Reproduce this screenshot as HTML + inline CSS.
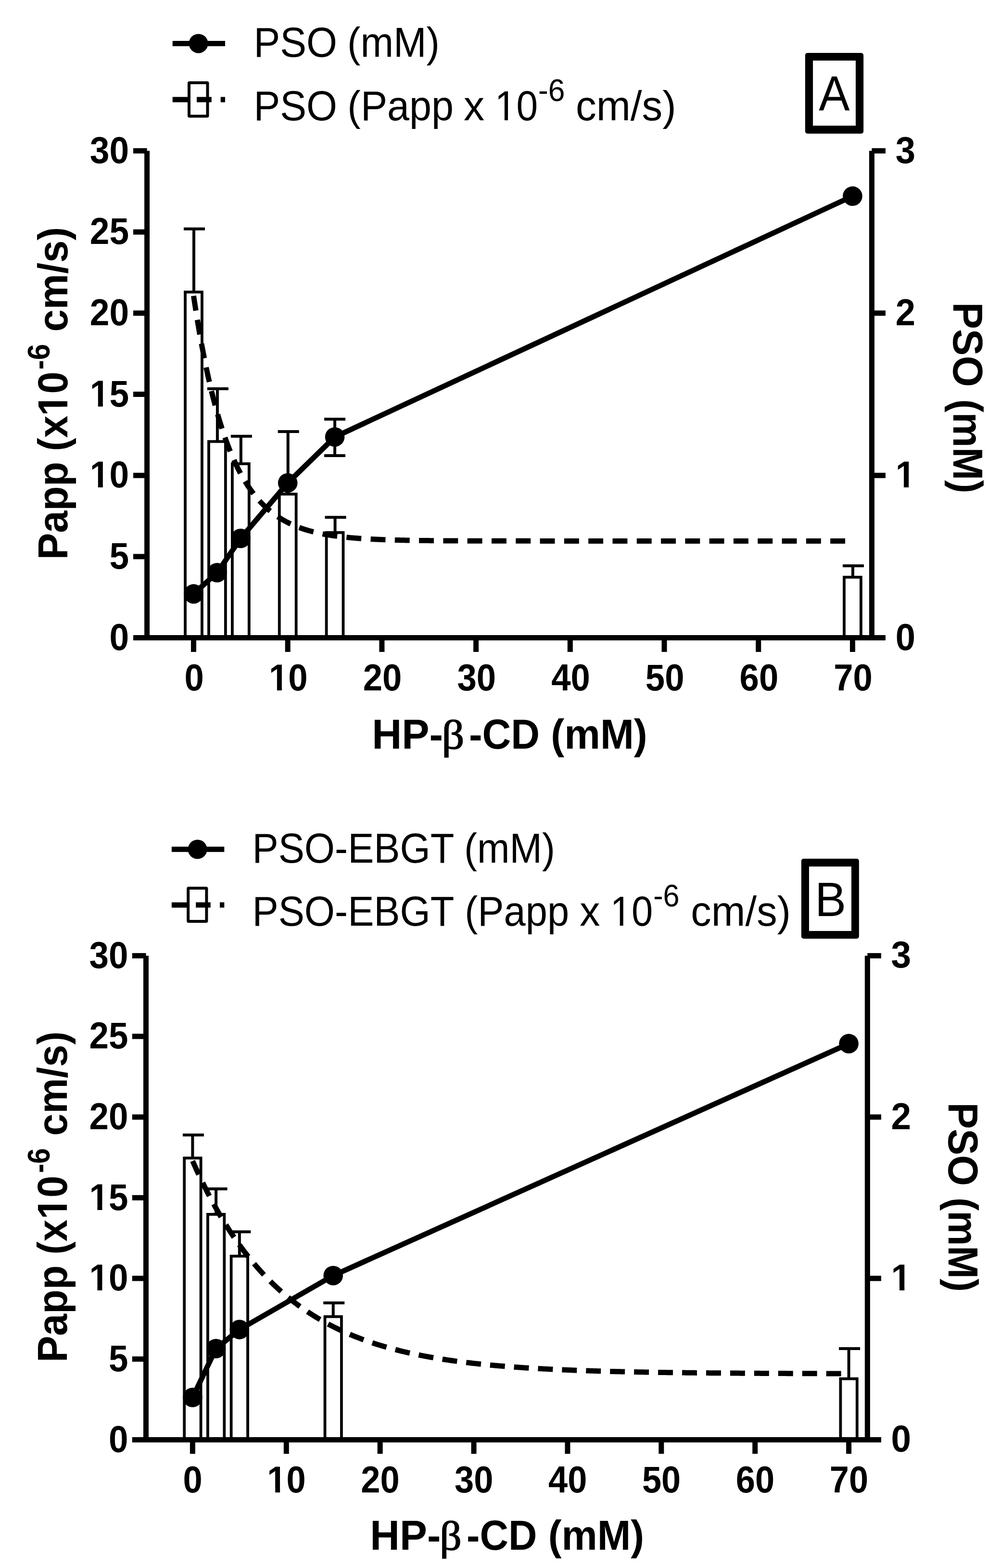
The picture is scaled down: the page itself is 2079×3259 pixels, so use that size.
<!DOCTYPE html>
<html><head><meta charset="utf-8"><title>HP-beta-CD chart</title>
<style>html,body{margin:0;padding:0;background:#fff;overflow:hidden}svg{display:block}text{fill:#000}</style>
</head><body>
<svg width="2079" height="3259" viewBox="0 0 2079 3259" font-family="'Liberation Sans', Arial, Helvetica, sans-serif">
<rect width="2079" height="3259" fill="#fff"/>
<rect x="385.05" y="606.99" width="34.9" height="718.51" fill="#fff" stroke="#000" stroke-width="5.8"/>
<path d="M403 606.99V475.77" stroke="#000" stroke-width="6" fill="none"/>
<path d="M382 475.77H426" stroke="#000" stroke-width="6" fill="none"/>
<rect x="433.98" y="917.67" width="34.9" height="407.83" fill="#fff" stroke="#000" stroke-width="5.8"/>
<path d="M451.93 917.67V808.04" stroke="#000" stroke-width="6" fill="none"/>
<path d="M430.93 808.04H474.93" stroke="#000" stroke-width="6" fill="none"/>
<rect x="482.91" y="963.88" width="34.9" height="361.62" fill="#fff" stroke="#000" stroke-width="5.8"/>
<path d="M500.86 963.88V906.87" stroke="#000" stroke-width="6" fill="none"/>
<path d="M479.86 906.87H523.86" stroke="#000" stroke-width="6" fill="none"/>
<rect x="580.76" y="1026.96" width="34.9" height="298.54" fill="#fff" stroke="#000" stroke-width="5.8"/>
<path d="M598.71 1026.96V897.09" stroke="#000" stroke-width="6" fill="none"/>
<path d="M577.71 897.09H621.71" stroke="#000" stroke-width="6" fill="none"/>
<rect x="678.62" y="1106.91" width="34.9" height="218.59" fill="#fff" stroke="#000" stroke-width="5.8"/>
<path d="M696.57 1106.91V1075.2" stroke="#000" stroke-width="6" fill="none"/>
<path d="M675.57 1075.2H719.57" stroke="#000" stroke-width="6" fill="none"/>
<rect x="1755.02" y="1199.68" width="34.9" height="125.82" fill="#fff" stroke="#000" stroke-width="5.8"/>
<path d="M1772.97 1199.68V1176.06" stroke="#000" stroke-width="6" fill="none"/>
<path d="M1751.97 1176.06H1795.97" stroke="#000" stroke-width="6" fill="none"/>
<path d="M402.5 615.05 L404.46 628.05 L406.41 640.71 L408.37 653.06 L410.33 665.09 L412.29 676.81 L414.24 688.23 L416.2 699.36 L418.16 710.21 L420.11 720.78 L422.07 731.08 L424.03 741.12 L425.99 750.9 L427.94 760.43 L429.9 769.72 L431.86 778.77 L433.81 787.59 L435.77 796.19 L437.73 804.56 L439.68 812.72 L441.64 820.68 L443.6 828.43 L445.56 835.98 L447.51 843.34 L449.47 850.52 L451.43 857.5 L453.38 864.32 L455.34 870.95 L457.3 877.42 L459.26 883.72 L461.21 889.87 L463.17 895.85 L465.13 901.69 L467.08 907.37 L469.04 912.91 L471 918.31 L472.96 923.56 L474.91 928.69 L476.87 933.69 L478.83 938.55 L480.78 943.3 L482.74 947.92 L484.7 952.42 L486.66 956.81 L488.61 961.09 L490.57 965.26 L492.53 969.32 L494.48 973.28 L496.44 977.13 L498.4 980.89 L500.36 984.55 L502.31 988.12 L504.27 991.6 L506.23 994.99 L508.18 998.29 L510.14 1001.51 L512.1 1004.65 L514.05 1007.7 L516.01 1010.68 L517.97 1013.58 L519.93 1016.41 L521.88 1019.17 L523.84 1021.86 L525.8 1024.47 L527.75 1027.02 L529.71 1029.51 L531.67 1031.93 L533.63 1034.29 L535.58 1036.59 L537.54 1038.83 L539.5 1041.02 L541.45 1043.14 L543.41 1045.22 L545.37 1047.24 L547.33 1049.21 L549.28 1051.13 L551.24 1053 L553.2 1054.82 L555.15 1056.6 L557.11 1058.33 L559.07 1060.01 L561.03 1061.66 L562.98 1063.26 L564.94 1064.82 L566.9 1066.34 L568.85 1067.82 L570.81 1069.27 L572.77 1070.67 L574.72 1072.05 L576.68 1073.38 L578.64 1074.68 L580.6 1075.95 L582.55 1077.19 L584.51 1078.4 L586.47 1079.57 L588.42 1080.71 L590.38 1081.83 L592.34 1082.92 L594.3 1083.98 L596.25 1085.01 L598.21 1086.01 L600.17 1086.99 L602.12 1087.95 L604.08 1088.88 L606.04 1089.79 L608 1090.67 L609.95 1091.53 L611.91 1092.37 L613.87 1093.19 L615.82 1093.98 L617.78 1094.76 L619.74 1095.52 L621.7 1096.26 L623.65 1096.97 L625.61 1097.67 L627.57 1098.36 L629.52 1099.02 L631.48 1099.67 L633.44 1100.3 L635.39 1100.92 L637.35 1101.52 L639.31 1102.1 L641.27 1102.67 L643.22 1103.23 L645.18 1103.77 L647.14 1104.29 L649.09 1104.81 L651.05 1105.31 L653.01 1105.8 L654.97 1106.27 L656.92 1106.73 L658.88 1107.18 L660.84 1107.62 L662.79 1108.05 L664.75 1108.47 L666.71 1108.88 L668.67 1109.27 L670.62 1109.66 L672.58 1110.04 L674.54 1110.4 L676.49 1110.76 L678.45 1111.11 L680.41 1111.45 L682.37 1111.78 L684.32 1112.1 L686.28 1112.42 L688.24 1112.72 L690.19 1113.02 L692.15 1113.31 L694.11 1113.6 L696.07 1113.87 L698.02 1114.14 L699.98 1114.4 L701.94 1114.66 L703.89 1114.91 L705.85 1115.15 L707.81 1115.39 L709.76 1115.62 L711.72 1115.84 L713.68 1116.06 L715.64 1116.27 L717.59 1116.48 L719.55 1116.68 L721.51 1116.88 L723.46 1117.07 L725.42 1117.26 L727.38 1117.44 L729.34 1117.62 L731.29 1117.8 L733.25 1117.96 L735.21 1118.13 L737.16 1118.29 L739.12 1118.45 L741.08 1118.6 L743.04 1118.75 L744.99 1118.89 L746.95 1119.03 L748.91 1119.17 L750.86 1119.3 L752.82 1119.43 L754.78 1119.56 L756.74 1119.69 L758.69 1119.81 L760.65 1119.92 L762.61 1120.04 L764.56 1120.15 L766.52 1120.26 L768.48 1120.37 L770.43 1120.47 L772.39 1120.57 L774.35 1120.67 L776.31 1120.76 L778.26 1120.86 L780.22 1120.95 L782.18 1121.04 L784.13 1121.12 L786.09 1121.21 L788.05 1121.29 L790.01 1121.37 L791.96 1121.45 L793.92 1121.52 L795.88 1121.6 L797.83 1121.67 L799.79 1121.74 L801.75 1121.81 L803.71 1121.87 L805.66 1121.94 L807.62 1122 L809.58 1122.06 L811.53 1122.12 L813.49 1122.18 L815.45 1122.24 L817.41 1122.29 L819.36 1122.35 L821.32 1122.4 L823.28 1122.45 L825.23 1122.5 L827.19 1122.55 L829.15 1122.6 L831.1 1122.65 L833.06 1122.69 L835.02 1122.74 L836.98 1122.78 L838.93 1122.82 L840.89 1122.86 L842.85 1122.9 L844.8 1122.94 L846.76 1122.98 L848.72 1123.01 L850.68 1123.05 L852.63 1123.08 L854.59 1123.12 L856.55 1123.15 L858.5 1123.18 L860.46 1123.22 L862.42 1123.25 L864.38 1123.28 L866.33 1123.3 L868.29 1123.33 L870.25 1123.36 L872.2 1123.39 L874.16 1123.41 L876.12 1123.44 L878.08 1123.46 L880.03 1123.49 L881.99 1123.51 L883.95 1123.54 L885.9 1123.56 L887.86 1123.58 L889.82 1123.6 L891.78 1123.62 L893.73 1123.64 L895.69 1123.66 L897.65 1123.68 L899.6 1123.7 L901.56 1123.72 L903.52 1123.74 L905.47 1123.75 L907.43 1123.77 L909.39 1123.79 L911.35 1123.8 L913.3 1123.82 L915.26 1123.83 L917.22 1123.85 L919.17 1123.86 L921.13 1123.88 L923.09 1123.89 L925.05 1123.91 L927 1123.92 L928.96 1123.93 L930.92 1123.94 L932.87 1123.96 L934.83 1123.97 L936.79 1123.98 L938.75 1123.99 L940.7 1124 L942.66 1124.01 L944.62 1124.02 L946.57 1124.03 L948.53 1124.04 L950.49 1124.05 L952.45 1124.06 L954.4 1124.07 L956.36 1124.08 L958.32 1124.09 L960.27 1124.1 L962.23 1124.1 L964.19 1124.11 L966.14 1124.12 L968.1 1124.13 L970.06 1124.13 L972.02 1124.14 L973.97 1124.15 L975.93 1124.16 L977.89 1124.16 L979.84 1124.17 L981.8 1124.18 L983.76 1124.18 L985.72 1124.19 L987.67 1124.19 L989.63 1124.2 L991.59 1124.2 L993.54 1124.21 L995.5 1124.22 L997.46 1124.22 L999.42 1124.23 L1001.37 1124.23 L1003.33 1124.24 L1005.29 1124.24 L1007.24 1124.24 L1009.2 1124.25 L1011.16 1124.25 L1013.12 1124.26 L1015.07 1124.26 L1017.03 1124.27 L1018.99 1124.27 L1020.94 1124.27 L1022.9 1124.28 L1024.86 1124.28 L1026.81 1124.28 L1028.77 1124.29 L1030.73 1124.29 L1032.69 1124.29 L1034.64 1124.3 L1036.6 1124.3 L1038.56 1124.3 L1040.51 1124.31 L1042.47 1124.31 L1044.43 1124.31 L1046.39 1124.31 L1048.34 1124.32 L1050.3 1124.32 L1052.26 1124.32 L1054.21 1124.32 L1056.17 1124.33 L1058.13 1124.33 L1060.09 1124.33 L1062.04 1124.33 L1064 1124.34 L1065.96 1124.34 L1067.91 1124.34 L1069.87 1124.34 L1071.83 1124.34 L1073.79 1124.35 L1075.74 1124.35 L1077.7 1124.35 L1079.66 1124.35 L1081.61 1124.35 L1083.57 1124.35 L1085.53 1124.36 L1087.49 1124.36 L1089.44 1124.36 L1091.4 1124.36 L1093.36 1124.36 L1095.31 1124.36 L1097.27 1124.36 L1099.23 1124.37 L1101.18 1124.37 L1103.14 1124.37 L1105.1 1124.37 L1107.06 1124.37 L1109.01 1124.37 L1110.97 1124.37 L1112.93 1124.37 L1114.88 1124.38 L1116.84 1124.38 L1118.8 1124.38 L1120.76 1124.38 L1122.71 1124.38 L1124.67 1124.38 L1126.63 1124.38 L1128.58 1124.38 L1130.54 1124.38 L1132.5 1124.38 L1134.46 1124.39 L1136.41 1124.39 L1138.37 1124.39 L1140.33 1124.39 L1142.28 1124.39 L1144.24 1124.39 L1146.2 1124.39 L1148.16 1124.39 L1150.11 1124.39 L1152.07 1124.39 L1154.03 1124.39 L1155.98 1124.39 L1157.94 1124.39 L1159.9 1124.39 L1161.85 1124.4 L1163.81 1124.4 L1165.77 1124.4 L1167.73 1124.4 L1169.68 1124.4 L1171.64 1124.4 L1173.6 1124.4 L1175.55 1124.4 L1177.51 1124.4 L1179.47 1124.4 L1181.43 1124.4 L1183.38 1124.4 L1185.34 1124.4 L1187.3 1124.4 L1189.25 1124.4 L1191.21 1124.4 L1193.17 1124.4 L1195.13 1124.4 L1197.08 1124.4 L1199.04 1124.4 L1201 1124.4 L1202.95 1124.4 L1204.91 1124.4 L1206.87 1124.41 L1208.83 1124.41 L1210.78 1124.41 L1212.74 1124.41 L1214.7 1124.41 L1216.65 1124.41 L1218.61 1124.41 L1220.57 1124.41 L1222.52 1124.41 L1224.48 1124.41 L1226.44 1124.41 L1228.4 1124.41 L1230.35 1124.41 L1232.31 1124.41 L1234.27 1124.41 L1236.22 1124.41 L1238.18 1124.41 L1240.14 1124.41 L1242.1 1124.41 L1244.05 1124.41 L1246.01 1124.41 L1247.97 1124.41 L1249.92 1124.41 L1251.88 1124.41 L1253.84 1124.41 L1255.8 1124.41 L1257.75 1124.41 L1259.71 1124.41 L1261.67 1124.41 L1263.62 1124.41 L1265.58 1124.41 L1267.54 1124.41 L1269.5 1124.41 L1271.45 1124.41 L1273.41 1124.41 L1275.37 1124.41 L1277.32 1124.41 L1279.28 1124.41 L1281.24 1124.41 L1283.2 1124.41 L1285.15 1124.41 L1287.11 1124.41 L1289.07 1124.41 L1291.02 1124.41 L1292.98 1124.41 L1294.94 1124.41 L1296.89 1124.41 L1298.85 1124.41 L1300.81 1124.41 L1302.77 1124.41 L1304.72 1124.41 L1306.68 1124.41 L1308.64 1124.41 L1310.59 1124.41 L1312.55 1124.41 L1314.51 1124.41 L1316.47 1124.41 L1318.42 1124.41 L1320.38 1124.41 L1322.34 1124.41 L1324.29 1124.41 L1326.25 1124.42 L1328.21 1124.42 L1330.17 1124.42 L1332.12 1124.42 L1334.08 1124.42 L1336.04 1124.42 L1337.99 1124.42 L1339.95 1124.42 L1341.91 1124.42 L1343.87 1124.42 L1345.82 1124.42 L1347.78 1124.42 L1349.74 1124.42 L1351.69 1124.42 L1353.65 1124.42 L1355.61 1124.42 L1357.56 1124.42 L1359.52 1124.42 L1361.48 1124.42 L1363.44 1124.42 L1365.39 1124.42 L1367.35 1124.42 L1369.31 1124.42 L1371.26 1124.42 L1373.22 1124.42 L1375.18 1124.42 L1377.14 1124.42 L1379.09 1124.42 L1381.05 1124.42 L1383.01 1124.42 L1384.96 1124.42 L1386.92 1124.42 L1388.88 1124.42 L1390.84 1124.42 L1392.79 1124.42 L1394.75 1124.42 L1396.71 1124.42 L1398.66 1124.42 L1400.62 1124.42 L1402.58 1124.42 L1404.54 1124.42 L1406.49 1124.42 L1408.45 1124.42 L1410.41 1124.42 L1412.36 1124.42 L1414.32 1124.42 L1416.28 1124.42 L1418.23 1124.42 L1420.19 1124.42 L1422.15 1124.42 L1424.11 1124.42 L1426.06 1124.42 L1428.02 1124.42 L1429.98 1124.42 L1431.93 1124.42 L1433.89 1124.42 L1435.85 1124.42 L1437.81 1124.42 L1439.76 1124.42 L1441.72 1124.42 L1443.68 1124.42 L1445.63 1124.42 L1447.59 1124.42 L1449.55 1124.42 L1451.51 1124.42 L1453.46 1124.42 L1455.42 1124.42 L1457.38 1124.42 L1459.33 1124.42 L1461.29 1124.42 L1463.25 1124.42 L1465.21 1124.42 L1467.16 1124.42 L1469.12 1124.42 L1471.08 1124.42 L1473.03 1124.42 L1474.99 1124.42 L1476.95 1124.42 L1478.9 1124.42 L1480.86 1124.42 L1482.82 1124.42 L1484.78 1124.42 L1486.73 1124.42 L1488.69 1124.42 L1490.65 1124.42 L1492.6 1124.42 L1494.56 1124.42 L1496.52 1124.42 L1498.48 1124.42 L1500.43 1124.42 L1502.39 1124.42 L1504.35 1124.42 L1506.3 1124.42 L1508.26 1124.42 L1510.22 1124.42 L1512.18 1124.42 L1514.13 1124.42 L1516.09 1124.42 L1518.05 1124.42 L1520 1124.42 L1521.96 1124.42 L1523.92 1124.42 L1525.88 1124.42 L1527.83 1124.42 L1529.79 1124.42 L1531.75 1124.42 L1533.7 1124.42 L1535.66 1124.42 L1537.62 1124.42 L1539.58 1124.42 L1541.53 1124.42 L1543.49 1124.42 L1545.45 1124.42 L1547.4 1124.42 L1549.36 1124.42 L1551.32 1124.42 L1553.27 1124.42 L1555.23 1124.42 L1557.19 1124.42 L1559.15 1124.42 L1561.1 1124.42 L1563.06 1124.42 L1565.02 1124.42 L1566.97 1124.42 L1568.93 1124.42 L1570.89 1124.42 L1572.85 1124.42 L1574.8 1124.42 L1576.76 1124.42 L1578.72 1124.42 L1580.67 1124.42 L1582.63 1124.42 L1584.59 1124.42 L1586.55 1124.42 L1588.5 1124.42 L1590.46 1124.42 L1592.42 1124.42 L1594.37 1124.42 L1596.33 1124.42 L1598.29 1124.42 L1600.25 1124.42 L1602.2 1124.42 L1604.16 1124.42 L1606.12 1124.42 L1608.07 1124.42 L1610.03 1124.42 L1611.99 1124.42 L1613.94 1124.42 L1615.9 1124.42 L1617.86 1124.42 L1619.82 1124.42 L1621.77 1124.42 L1623.73 1124.42 L1625.69 1124.42 L1627.64 1124.42 L1629.6 1124.42 L1631.56 1124.42 L1633.52 1124.42 L1635.47 1124.42 L1637.43 1124.42 L1639.39 1124.42 L1641.34 1124.42 L1643.3 1124.42 L1645.26 1124.42 L1647.22 1124.42 L1649.17 1124.42 L1651.13 1124.42 L1653.09 1124.42 L1655.04 1124.42 L1657 1124.42 L1658.96 1124.42 L1660.92 1124.42 L1662.87 1124.42 L1664.83 1124.42 L1666.79 1124.42 L1668.74 1124.42 L1670.7 1124.42 L1672.66 1124.42 L1674.62 1124.42 L1676.57 1124.42 L1678.53 1124.42 L1680.49 1124.42 L1682.44 1124.42 L1684.4 1124.42 L1686.36 1124.42 L1688.31 1124.42 L1690.27 1124.42 L1692.23 1124.42 L1694.19 1124.42 L1696.14 1124.42 L1698.1 1124.42 L1700.06 1124.42 L1702.01 1124.42 L1703.97 1124.42 L1705.93 1124.42 L1707.89 1124.42 L1709.84 1124.42 L1711.8 1124.42 L1713.76 1124.42 L1715.71 1124.42 L1717.67 1124.42 L1719.63 1124.42 L1721.59 1124.42 L1723.54 1124.42 L1725.5 1124.42 L1727.46 1124.42 L1729.41 1124.42 L1731.37 1124.42 L1733.33 1124.42 L1735.29 1124.42 L1737.24 1124.42 L1739.2 1124.42 L1741.16 1124.42 L1743.11 1124.42 L1745.07 1124.42 L1747.03 1124.42 L1748.98 1124.42 L1750.94 1124.42 L1752.9 1124.42 L1754.86 1124.42 L1756.81 1124.42 L1758.77 1124.42 L1760.73 1124.42 L1762.68 1124.42 L1764.64 1124.42 L1766.6 1124.42 L1768.56 1124.42 L1770.51 1124.42 L1772.47 1124.42" stroke="#000" stroke-width="11" fill="none" stroke-dasharray="30.9 19.4" stroke-dashoffset="0"/>
<path d="M402.5 1234.42 L451.43 1190.23 L500.36 1119.05 L598.21 1003.69 L696.07 908.22 L1772.47 407.63" stroke="#000" stroke-width="11" fill="none" stroke-linejoin="round"/>
<path d="M696.07 947.1V871.2" stroke="#000" stroke-width="6" fill="none"/>
<path d="M674.07 947.1H718.07" stroke="#000" stroke-width="6" fill="none"/>
<path d="M674.07 871.2H718.07" stroke="#000" stroke-width="6" fill="none"/>
<circle cx="402.5" cy="1234.42" r="20.3" fill="#000"/>
<circle cx="451.43" cy="1190.23" r="20.3" fill="#000"/>
<circle cx="500.36" cy="1119.05" r="20.3" fill="#000"/>
<circle cx="598.21" cy="1003.69" r="20.3" fill="#000"/>
<circle cx="696.07" cy="908.22" r="20.3" fill="#000"/>
<circle cx="1772.47" cy="407.63" r="20.3" fill="#000"/>
<path d="M305.6 313.51V1331" stroke="#000" stroke-width="11" fill="none"/>
<path d="M1812.5 313.51V1331" stroke="#000" stroke-width="11" fill="none"/>
<path d="M277 1325.5H1841" stroke="#000" stroke-width="11" fill="none"/>
<path d="M277 1156.84H305.6" stroke="#000" stroke-width="11" fill="none"/>
<path d="M277 988.17H305.6" stroke="#000" stroke-width="11" fill="none"/>
<path d="M277 819.51H305.6" stroke="#000" stroke-width="11" fill="none"/>
<path d="M277 650.84H305.6" stroke="#000" stroke-width="11" fill="none"/>
<path d="M277 482.18H305.6" stroke="#000" stroke-width="11" fill="none"/>
<path d="M277 313.51H305.6" stroke="#000" stroke-width="11" fill="none"/>
<path d="M1812.5 988.17H1841" stroke="#000" stroke-width="11" fill="none"/>
<path d="M1812.5 650.84H1841" stroke="#000" stroke-width="11" fill="none"/>
<path d="M1812.5 313.51H1841" stroke="#000" stroke-width="11" fill="none"/>
<path d="M402.5 1325.5V1355" stroke="#000" stroke-width="11" fill="none"/>
<path d="M598.21 1325.5V1355" stroke="#000" stroke-width="11" fill="none"/>
<path d="M793.92 1325.5V1355" stroke="#000" stroke-width="11" fill="none"/>
<path d="M989.63 1325.5V1355" stroke="#000" stroke-width="11" fill="none"/>
<path d="M1185.34 1325.5V1355" stroke="#000" stroke-width="11" fill="none"/>
<path d="M1381.05 1325.5V1355" stroke="#000" stroke-width="11" fill="none"/>
<path d="M1576.76 1325.5V1355" stroke="#000" stroke-width="11" fill="none"/>
<path d="M1772.47 1325.5V1355" stroke="#000" stroke-width="11" fill="none"/>
<rect x="383.2" y="2406.91" width="34.4" height="585.49" fill="#fff" stroke="#000" stroke-width="5.8"/>
<path d="M400.4 2406.91V2358.96" stroke="#000" stroke-width="6" fill="none"/>
<path d="M379.9 2358.96H423.9" stroke="#000" stroke-width="6" fill="none"/>
<rect x="431.92" y="2523.94" width="34.4" height="468.46" fill="#fff" stroke="#000" stroke-width="5.8"/>
<path d="M449.12 2523.94V2470.96" stroke="#000" stroke-width="6" fill="none"/>
<path d="M428.62 2470.96H472.62" stroke="#000" stroke-width="6" fill="none"/>
<rect x="480.64" y="2610.79" width="34.4" height="381.61" fill="#fff" stroke="#000" stroke-width="5.8"/>
<path d="M497.84 2610.79V2560.16" stroke="#000" stroke-width="6" fill="none"/>
<path d="M477.34 2560.16H521.35" stroke="#000" stroke-width="6" fill="none"/>
<rect x="675.53" y="2736.54" width="34.4" height="255.86" fill="#fff" stroke="#000" stroke-width="5.8"/>
<path d="M692.74 2736.54V2708.04" stroke="#000" stroke-width="6" fill="none"/>
<path d="M672.24 2708.04H716.24" stroke="#000" stroke-width="6" fill="none"/>
<rect x="1747.43" y="2865.65" width="34.4" height="126.75" fill="#fff" stroke="#000" stroke-width="5.8"/>
<path d="M1764.63 2865.65V2802.94" stroke="#000" stroke-width="6" fill="none"/>
<path d="M1744.13 2802.94H1788.13" stroke="#000" stroke-width="6" fill="none"/>
<path d="M400.4 2412.92 L402.35 2417.34 L404.3 2421.72 L406.25 2426.06 L408.2 2430.35 L410.14 2434.6 L412.09 2438.81 L414.04 2442.97 L415.99 2447.1 L417.94 2451.18 L419.89 2455.22 L421.84 2459.22 L423.79 2463.19 L425.74 2467.11 L427.68 2470.99 L429.63 2474.83 L431.58 2478.64 L433.53 2482.41 L435.48 2486.14 L437.43 2489.83 L439.38 2493.48 L441.33 2497.1 L443.28 2500.69 L445.22 2504.23 L447.17 2507.74 L449.12 2511.22 L451.07 2514.66 L453.02 2518.07 L454.97 2521.44 L456.92 2524.78 L458.87 2528.09 L460.82 2531.36 L462.76 2534.6 L464.71 2537.81 L466.66 2540.98 L468.61 2544.13 L470.56 2547.24 L472.51 2550.32 L474.46 2553.37 L476.41 2556.39 L478.36 2559.38 L480.3 2562.34 L482.25 2565.27 L484.2 2568.17 L486.15 2571.04 L488.1 2573.89 L490.05 2576.7 L492 2579.49 L493.95 2582.25 L495.9 2584.98 L497.84 2587.68 L499.79 2590.36 L501.74 2593.01 L503.69 2595.63 L505.64 2598.23 L507.59 2600.8 L509.54 2603.35 L511.49 2605.87 L513.44 2608.36 L515.39 2610.83 L517.33 2613.28 L519.28 2615.7 L521.23 2618.1 L523.18 2620.47 L525.13 2622.82 L527.08 2625.15 L529.03 2627.45 L530.98 2629.73 L532.93 2631.98 L534.87 2634.22 L536.82 2636.43 L538.77 2638.62 L540.72 2640.79 L542.67 2642.93 L544.62 2645.06 L546.57 2647.16 L548.52 2649.24 L550.47 2651.3 L552.41 2653.34 L554.36 2655.36 L556.31 2657.36 L558.26 2659.34 L560.21 2661.3 L562.16 2663.25 L564.11 2665.17 L566.06 2667.07 L568.01 2668.95 L569.95 2670.82 L571.9 2672.66 L573.85 2674.49 L575.8 2676.3 L577.75 2678.09 L579.7 2679.86 L581.65 2681.62 L583.6 2683.35 L585.55 2685.07 L587.49 2686.78 L589.44 2688.46 L591.39 2690.13 L593.34 2691.79 L595.29 2693.42 L597.24 2695.04 L599.19 2696.64 L601.14 2698.23 L603.09 2699.8 L605.03 2701.36 L606.98 2702.9 L608.93 2704.42 L610.88 2705.93 L612.83 2707.43 L614.78 2708.91 L616.73 2710.37 L618.68 2711.82 L620.63 2713.26 L622.57 2714.68 L624.52 2716.09 L626.47 2717.48 L628.42 2718.86 L630.37 2720.22 L632.32 2721.57 L634.27 2722.91 L636.22 2724.24 L638.17 2725.55 L640.11 2726.85 L642.06 2728.13 L644.01 2729.4 L645.96 2730.66 L647.91 2731.91 L649.86 2733.15 L651.81 2734.37 L653.76 2735.58 L655.71 2736.78 L657.65 2737.96 L659.6 2739.14 L661.55 2740.3 L663.5 2741.45 L665.45 2742.59 L667.4 2743.72 L669.35 2744.83 L671.3 2745.94 L673.25 2747.03 L675.19 2748.12 L677.14 2749.19 L679.09 2750.25 L681.04 2751.3 L682.99 2752.34 L684.94 2753.37 L686.89 2754.39 L688.84 2755.4 L690.79 2756.4 L692.74 2757.39 L694.68 2758.37 L696.63 2759.34 L698.58 2760.3 L700.53 2761.25 L702.48 2762.2 L704.43 2763.13 L706.38 2764.05 L708.33 2764.96 L710.28 2765.87 L712.22 2766.76 L714.17 2767.65 L716.12 2768.53 L718.07 2769.4 L720.02 2770.26 L721.97 2771.11 L723.92 2771.95 L725.87 2772.78 L727.82 2773.61 L729.76 2774.43 L731.71 2775.24 L733.66 2776.04 L735.61 2776.83 L737.56 2777.62 L739.51 2778.39 L741.46 2779.16 L743.41 2779.93 L745.36 2780.68 L747.3 2781.43 L749.25 2782.17 L751.2 2782.9 L753.15 2783.62 L755.1 2784.34 L757.05 2785.05 L759 2785.76 L760.95 2786.45 L762.9 2787.14 L764.84 2787.82 L766.79 2788.5 L768.74 2789.17 L770.69 2789.83 L772.64 2790.49 L774.59 2791.14 L776.54 2791.78 L778.49 2792.41 L780.44 2793.04 L782.38 2793.67 L784.33 2794.28 L786.28 2794.89 L788.23 2795.5 L790.18 2796.1 L792.13 2796.69 L794.08 2797.28 L796.03 2797.86 L797.98 2798.43 L799.92 2799 L801.87 2799.57 L803.82 2800.13 L805.77 2800.68 L807.72 2801.23 L809.67 2801.77 L811.62 2802.3 L813.57 2802.83 L815.52 2803.36 L817.46 2803.88 L819.41 2804.39 L821.36 2804.9 L823.31 2805.41 L825.26 2805.91 L827.21 2806.4 L829.16 2806.89 L831.11 2807.38 L833.06 2807.86 L835 2808.33 L836.95 2808.8 L838.9 2809.27 L840.85 2809.73 L842.8 2810.19 L844.75 2810.64 L846.7 2811.09 L848.65 2811.53 L850.6 2811.97 L852.54 2812.4 L854.49 2812.83 L856.44 2813.26 L858.39 2813.68 L860.34 2814.1 L862.29 2814.51 L864.24 2814.92 L866.19 2815.32 L868.14 2815.72 L870.08 2816.12 L872.03 2816.51 L873.98 2816.9 L875.93 2817.29 L877.88 2817.67 L879.83 2818.04 L881.78 2818.42 L883.73 2818.79 L885.68 2819.15 L887.62 2819.52 L889.57 2819.87 L891.52 2820.23 L893.47 2820.58 L895.42 2820.93 L897.37 2821.27 L899.32 2821.61 L901.27 2821.95 L903.22 2822.29 L905.17 2822.62 L907.11 2822.94 L909.06 2823.27 L911.01 2823.59 L912.96 2823.91 L914.91 2824.22 L916.86 2824.53 L918.81 2824.84 L920.76 2825.15 L922.71 2825.45 L924.65 2825.75 L926.6 2826.05 L928.55 2826.34 L930.5 2826.63 L932.45 2826.92 L934.4 2827.2 L936.35 2827.48 L938.3 2827.76 L940.25 2828.04 L942.19 2828.31 L944.14 2828.58 L946.09 2828.85 L948.04 2829.12 L949.99 2829.38 L951.94 2829.64 L953.89 2829.9 L955.84 2830.15 L957.79 2830.4 L959.73 2830.65 L961.68 2830.9 L963.63 2831.15 L965.58 2831.39 L967.53 2831.63 L969.48 2831.87 L971.43 2832.1 L973.38 2832.33 L975.33 2832.56 L977.27 2832.79 L979.22 2833.02 L981.17 2833.24 L983.12 2833.46 L985.07 2833.68 L987.02 2833.9 L988.97 2834.11 L990.92 2834.33 L992.87 2834.54 L994.81 2834.75 L996.76 2834.95 L998.71 2835.16 L1000.66 2835.36 L1002.61 2835.56 L1004.56 2835.76 L1006.51 2835.95 L1008.46 2836.15 L1010.41 2836.34 L1012.35 2836.53 L1014.3 2836.72 L1016.25 2836.91 L1018.2 2837.09 L1020.15 2837.27 L1022.1 2837.46 L1024.05 2837.63 L1026 2837.81 L1027.95 2837.99 L1029.89 2838.16 L1031.84 2838.33 L1033.79 2838.5 L1035.74 2838.67 L1037.69 2838.84 L1039.64 2839.01 L1041.59 2839.17 L1043.54 2839.33 L1045.49 2839.49 L1047.43 2839.65 L1049.38 2839.81 L1051.33 2839.96 L1053.28 2840.12 L1055.23 2840.27 L1057.18 2840.42 L1059.13 2840.57 L1061.08 2840.72 L1063.03 2840.87 L1064.97 2841.01 L1066.92 2841.16 L1068.87 2841.3 L1070.82 2841.44 L1072.77 2841.58 L1074.72 2841.72 L1076.67 2841.85 L1078.62 2841.99 L1080.57 2842.12 L1082.51 2842.25 L1084.46 2842.39 L1086.41 2842.52 L1088.36 2842.64 L1090.31 2842.77 L1092.26 2842.9 L1094.21 2843.02 L1096.16 2843.15 L1098.11 2843.27 L1100.06 2843.39 L1102 2843.51 L1103.95 2843.63 L1105.9 2843.75 L1107.85 2843.86 L1109.8 2843.98 L1111.75 2844.09 L1113.7 2844.2 L1115.65 2844.32 L1117.6 2844.43 L1119.54 2844.54 L1121.49 2844.65 L1123.44 2844.75 L1125.39 2844.86 L1127.34 2844.96 L1129.29 2845.07 L1131.24 2845.17 L1133.19 2845.27 L1135.14 2845.37 L1137.08 2845.47 L1139.03 2845.57 L1140.98 2845.67 L1142.93 2845.77 L1144.88 2845.87 L1146.83 2845.96 L1148.78 2846.05 L1150.73 2846.15 L1152.68 2846.24 L1154.62 2846.33 L1156.57 2846.42 L1158.52 2846.51 L1160.47 2846.6 L1162.42 2846.69 L1164.37 2846.78 L1166.32 2846.86 L1168.27 2846.95 L1170.22 2847.03 L1172.16 2847.11 L1174.11 2847.2 L1176.06 2847.28 L1178.01 2847.36 L1179.96 2847.44 L1181.91 2847.52 L1183.86 2847.6 L1185.81 2847.68 L1187.76 2847.75 L1189.7 2847.83 L1191.65 2847.91 L1193.6 2847.98 L1195.55 2848.05 L1197.5 2848.13 L1199.45 2848.2 L1201.4 2848.27 L1203.35 2848.34 L1205.3 2848.41 L1207.24 2848.48 L1209.19 2848.55 L1211.14 2848.62 L1213.09 2848.69 L1215.04 2848.76 L1216.99 2848.82 L1218.94 2848.89 L1220.89 2848.95 L1222.84 2849.02 L1224.78 2849.08 L1226.73 2849.14 L1228.68 2849.21 L1230.63 2849.27 L1232.58 2849.33 L1234.53 2849.39 L1236.48 2849.45 L1238.43 2849.51 L1240.38 2849.57 L1242.32 2849.63 L1244.27 2849.68 L1246.22 2849.74 L1248.17 2849.8 L1250.12 2849.85 L1252.07 2849.91 L1254.02 2849.96 L1255.97 2850.02 L1257.92 2850.07 L1259.86 2850.12 L1261.81 2850.18 L1263.76 2850.23 L1265.71 2850.28 L1267.66 2850.33 L1269.61 2850.38 L1271.56 2850.43 L1273.51 2850.48 L1275.46 2850.53 L1277.4 2850.58 L1279.35 2850.63 L1281.3 2850.67 L1283.25 2850.72 L1285.2 2850.77 L1287.15 2850.81 L1289.1 2850.86 L1291.05 2850.9 L1293 2850.95 L1294.95 2850.99 L1296.89 2851.04 L1298.84 2851.08 L1300.79 2851.12 L1302.74 2851.17 L1304.69 2851.21 L1306.64 2851.25 L1308.59 2851.29 L1310.54 2851.33 L1312.49 2851.37 L1314.43 2851.41 L1316.38 2851.45 L1318.33 2851.49 L1320.28 2851.53 L1322.23 2851.57 L1324.18 2851.61 L1326.13 2851.65 L1328.08 2851.68 L1330.03 2851.72 L1331.97 2851.76 L1333.92 2851.79 L1335.87 2851.83 L1337.82 2851.86 L1339.77 2851.9 L1341.72 2851.93 L1343.67 2851.97 L1345.62 2852 L1347.57 2852.04 L1349.51 2852.07 L1351.46 2852.1 L1353.41 2852.14 L1355.36 2852.17 L1357.31 2852.2 L1359.26 2852.23 L1361.21 2852.26 L1363.16 2852.3 L1365.11 2852.33 L1367.05 2852.36 L1369 2852.39 L1370.95 2852.42 L1372.9 2852.45 L1374.85 2852.48 L1376.8 2852.51 L1378.75 2852.53 L1380.7 2852.56 L1382.65 2852.59 L1384.59 2852.62 L1386.54 2852.65 L1388.49 2852.67 L1390.44 2852.7 L1392.39 2852.73 L1394.34 2852.75 L1396.29 2852.78 L1398.24 2852.81 L1400.19 2852.83 L1402.13 2852.86 L1404.08 2852.88 L1406.03 2852.91 L1407.98 2852.93 L1409.93 2852.96 L1411.88 2852.98 L1413.83 2853.01 L1415.78 2853.03 L1417.73 2853.05 L1419.67 2853.08 L1421.62 2853.1 L1423.57 2853.12 L1425.52 2853.15 L1427.47 2853.17 L1429.42 2853.19 L1431.37 2853.21 L1433.32 2853.23 L1435.27 2853.25 L1437.21 2853.28 L1439.16 2853.3 L1441.11 2853.32 L1443.06 2853.34 L1445.01 2853.36 L1446.96 2853.38 L1448.91 2853.4 L1450.86 2853.42 L1452.81 2853.44 L1454.75 2853.46 L1456.7 2853.48 L1458.65 2853.5 L1460.6 2853.52 L1462.55 2853.53 L1464.5 2853.55 L1466.45 2853.57 L1468.4 2853.59 L1470.35 2853.61 L1472.3 2853.62 L1474.24 2853.64 L1476.19 2853.66 L1478.14 2853.68 L1480.09 2853.69 L1482.04 2853.71 L1483.99 2853.73 L1485.94 2853.74 L1487.89 2853.76 L1489.84 2853.78 L1491.78 2853.79 L1493.73 2853.81 L1495.68 2853.82 L1497.63 2853.84 L1499.58 2853.86 L1501.53 2853.87 L1503.48 2853.89 L1505.43 2853.9 L1507.38 2853.92 L1509.32 2853.93 L1511.27 2853.95 L1513.22 2853.96 L1515.17 2853.97 L1517.12 2853.99 L1519.07 2854 L1521.02 2854.02 L1522.97 2854.03 L1524.92 2854.04 L1526.86 2854.06 L1528.81 2854.07 L1530.76 2854.08 L1532.71 2854.1 L1534.66 2854.11 L1536.61 2854.12 L1538.56 2854.13 L1540.51 2854.15 L1542.46 2854.16 L1544.4 2854.17 L1546.35 2854.18 L1548.3 2854.2 L1550.25 2854.21 L1552.2 2854.22 L1554.15 2854.23 L1556.1 2854.24 L1558.05 2854.25 L1560 2854.26 L1561.94 2854.28 L1563.89 2854.29 L1565.84 2854.3 L1567.79 2854.31 L1569.74 2854.32 L1571.69 2854.33 L1573.64 2854.34 L1575.59 2854.35 L1577.54 2854.36 L1579.48 2854.37 L1581.43 2854.38 L1583.38 2854.39 L1585.33 2854.4 L1587.28 2854.41 L1589.23 2854.42 L1591.18 2854.43 L1593.13 2854.44 L1595.08 2854.45 L1597.02 2854.46 L1598.97 2854.47 L1600.92 2854.48 L1602.87 2854.49 L1604.82 2854.5 L1606.77 2854.5 L1608.72 2854.51 L1610.67 2854.52 L1612.62 2854.53 L1614.56 2854.54 L1616.51 2854.55 L1618.46 2854.56 L1620.41 2854.56 L1622.36 2854.57 L1624.31 2854.58 L1626.26 2854.59 L1628.21 2854.6 L1630.16 2854.6 L1632.1 2854.61 L1634.05 2854.62 L1636 2854.63 L1637.95 2854.64 L1639.9 2854.64 L1641.85 2854.65 L1643.8 2854.66 L1645.75 2854.66 L1647.7 2854.67 L1649.64 2854.68 L1651.59 2854.69 L1653.54 2854.69 L1655.49 2854.7 L1657.44 2854.71 L1659.39 2854.71 L1661.34 2854.72 L1663.29 2854.73 L1665.24 2854.73 L1667.18 2854.74 L1669.13 2854.75 L1671.08 2854.75 L1673.03 2854.76 L1674.98 2854.77 L1676.93 2854.77 L1678.88 2854.78 L1680.83 2854.78 L1682.78 2854.79 L1684.73 2854.8 L1686.67 2854.8 L1688.62 2854.81 L1690.57 2854.81 L1692.52 2854.82 L1694.47 2854.82 L1696.42 2854.83 L1698.37 2854.84 L1700.32 2854.84 L1702.27 2854.85 L1704.21 2854.85 L1706.16 2854.86 L1708.11 2854.86 L1710.06 2854.87 L1712.01 2854.87 L1713.96 2854.88 L1715.91 2854.88 L1717.86 2854.89 L1719.81 2854.89 L1721.75 2854.9 L1723.7 2854.9 L1725.65 2854.91 L1727.6 2854.91 L1729.55 2854.92 L1731.5 2854.92 L1733.45 2854.93 L1735.4 2854.93 L1737.35 2854.94 L1739.29 2854.94 L1741.24 2854.94 L1743.19 2854.95 L1745.14 2854.95 L1747.09 2854.96 L1749.04 2854.96 L1750.99 2854.97 L1752.94 2854.97 L1754.89 2854.97 L1756.83 2854.98 L1758.78 2854.98 L1760.73 2854.99 L1762.68 2854.99 L1764.63 2854.99" stroke="#000" stroke-width="11" fill="none" stroke-dasharray="30.9 19.05" stroke-dashoffset="0"/>
<path d="M400.4 2904.54 L449.12 2802.94 L497.84 2763.37 L692.74 2651.2 L1764.63 2169.16" stroke="#000" stroke-width="11" fill="none" stroke-linejoin="round"/>
<circle cx="400.4" cy="2904.54" r="20.3" fill="#000"/>
<circle cx="449.12" cy="2802.94" r="20.3" fill="#000"/>
<circle cx="497.84" cy="2763.37" r="20.3" fill="#000"/>
<circle cx="692.74" cy="2651.2" r="20.3" fill="#000"/>
<circle cx="1764.63" cy="2169.16" r="20.3" fill="#000"/>
<path d="M303.5 1986.41V2997.9" stroke="#000" stroke-width="11" fill="none"/>
<path d="M1803.4 1986.41V2997.9" stroke="#000" stroke-width="11" fill="none"/>
<path d="M274.8 2992.4H1832" stroke="#000" stroke-width="11" fill="none"/>
<path d="M274.8 2824.74H303.5" stroke="#000" stroke-width="11" fill="none"/>
<path d="M274.8 2657.07H303.5" stroke="#000" stroke-width="11" fill="none"/>
<path d="M274.8 2489.41H303.5" stroke="#000" stroke-width="11" fill="none"/>
<path d="M274.8 2321.74H303.5" stroke="#000" stroke-width="11" fill="none"/>
<path d="M274.8 2154.07H303.5" stroke="#000" stroke-width="11" fill="none"/>
<path d="M274.8 1986.41H303.5" stroke="#000" stroke-width="11" fill="none"/>
<path d="M1803.4 2657.07H1832" stroke="#000" stroke-width="11" fill="none"/>
<path d="M1803.4 2321.74H1832" stroke="#000" stroke-width="11" fill="none"/>
<path d="M1803.4 1986.41H1832" stroke="#000" stroke-width="11" fill="none"/>
<path d="M400.4 2992.4V3021.7" stroke="#000" stroke-width="11" fill="none"/>
<path d="M595.29 2992.4V3021.7" stroke="#000" stroke-width="11" fill="none"/>
<path d="M790.18 2992.4V3021.7" stroke="#000" stroke-width="11" fill="none"/>
<path d="M985.07 2992.4V3021.7" stroke="#000" stroke-width="11" fill="none"/>
<path d="M1179.96 2992.4V3021.7" stroke="#000" stroke-width="11" fill="none"/>
<path d="M1374.85 2992.4V3021.7" stroke="#000" stroke-width="11" fill="none"/>
<path d="M1569.74 2992.4V3021.7" stroke="#000" stroke-width="11" fill="none"/>
<path d="M1764.63 2992.4V3021.7" stroke="#000" stroke-width="11" fill="none"/>
<path d="M358.75 90.4H468" stroke="#000" stroke-width="11"/>
<circle cx="412.6" cy="90.4" r="20"/>
<path d="M358.75 207H393" stroke="#000" stroke-width="11"/>
<rect x="393" y="171.9" width="38.5" height="69.5" fill="#fff" stroke="#000" stroke-width="6" rx="1"/>
<path d="M409 207H439.8" stroke="#000" stroke-width="11"/>
<path d="M458.7 207H468" stroke="#000" stroke-width="11"/>
<path d="M356.9 1765.3H466.3" stroke="#000" stroke-width="11"/>
<circle cx="410.6" cy="1765.3" r="20"/>
<path d="M356.9 1880.9H391.2" stroke="#000" stroke-width="11"/>
<rect x="391.2" y="1845.9" width="38.2" height="69" fill="#fff" stroke="#000" stroke-width="6" rx="1"/>
<path d="M407.2 1880.9H437.7" stroke="#000" stroke-width="11"/>
<path d="M457 1880.9H466.3" stroke="#000" stroke-width="11"/>
<rect x="1673.9" y="110" width="121.3" height="167.8" rx="5" fill="#000"/><rect x="1690.1" y="125.9" width="88.9" height="135.3" fill="#fff"/>
<rect x="1665.9" y="1784.7" width="120" height="166.2" rx="5" fill="#000"/><rect x="1682" y="1801" width="88" height="134" fill="#fff"/>
<defs><clipPath id="clip_A_l2d" clipPathUnits="userSpaceOnUse"><rect x="-500" y="-434" width="100000" height="426.02"/><rect x="21.83" y="-8.98" width="7.67" height="86.8"/><rect x="48.53" y="-434" width="100000" height="868"/></clipPath><clipPath id="clip_B_l2d" clipPathUnits="userSpaceOnUse"><rect x="-500" y="-434" width="100000" height="426.02"/><rect x="21.83" y="-8.98" width="7.67" height="86.8"/><rect x="48.53" y="-434" width="100000" height="868"/></clipPath><clipPath id="clip_A_yt3" clipPathUnits="userSpaceOnUse"><rect x="-500" y="-436" width="100000" height="425.6"/><rect x="20.35" y="-11.4" width="11.96" height="87.2"/><rect x="48.75" y="-436" width="100000" height="872"/></clipPath><clipPath id="clip_B_yt3" clipPathUnits="userSpaceOnUse"><rect x="-500" y="-436" width="100000" height="425.6"/><rect x="20.35" y="-11.4" width="11.96" height="87.2"/><rect x="48.75" y="-436" width="100000" height="872"/></clipPath><clipPath id="clip_A_yl2" clipPathUnits="userSpaceOnUse"><rect x="-500" y="-390.34" width="100000" height="380.88"/><rect x="18.22" y="-10.47" width="10.71" height="78.07"/><rect x="43.65" y="-390.34" width="100000" height="780.69"/></clipPath><clipPath id="clip_A_yl3" clipPathUnits="userSpaceOnUse"><rect x="-500" y="-390.34" width="100000" height="380.88"/><rect x="18.22" y="-10.47" width="10.71" height="78.07"/><rect x="43.65" y="-390.34" width="100000" height="780.69"/></clipPath><clipPath id="clip_A_yr1" clipPathUnits="userSpaceOnUse"><rect x="-500" y="-387.65" width="100000" height="378.24"/><rect x="18.1" y="-10.41" width="10.64" height="77.53"/><rect x="43.35" y="-387.65" width="100000" height="775.3"/></clipPath><clipPath id="clip_A_xl1" clipPathUnits="userSpaceOnUse"><rect x="-500" y="-390.27" width="100000" height="380.8"/><rect x="18.22" y="-10.47" width="10.71" height="78.05"/><rect x="43.64" y="-390.27" width="100000" height="780.54"/></clipPath><clipPath id="clip_B_yl2" clipPathUnits="userSpaceOnUse"><rect x="-500" y="-388.64" width="100000" height="379.2"/><rect x="18.14" y="-10.43" width="10.66" height="77.73"/><rect x="43.46" y="-388.64" width="100000" height="777.27"/></clipPath><clipPath id="clip_B_yl3" clipPathUnits="userSpaceOnUse"><rect x="-500" y="-388.64" width="100000" height="379.2"/><rect x="18.14" y="-10.43" width="10.66" height="77.73"/><rect x="43.46" y="-388.64" width="100000" height="777.27"/></clipPath><clipPath id="clip_B_yr1" clipPathUnits="userSpaceOnUse"><rect x="-500" y="-386.54" width="100000" height="377.15"/><rect x="18.04" y="-10.39" width="10.61" height="77.31"/><rect x="43.22" y="-386.54" width="100000" height="773.07"/></clipPath><clipPath id="clip_B_xl1" clipPathUnits="userSpaceOnUse"><rect x="-500" y="-389.4" width="100000" height="379.95"/><rect x="18.18" y="-10.45" width="10.69" height="77.88"/><rect x="43.54" y="-389.4" width="100000" height="778.79"/></clipPath></defs>
<text id="A_l1a" transform="translate(527.47 117.9) scale(0.9472 1)" font-size="86.8">PSO</text>
<text id="A_l1b" transform="translate(722.06 117.9) scale(0.9484 1)" font-size="86.8">(mM)</text>
<text id="A_l2a" transform="translate(527.47 249.7) scale(0.9472 1)" font-size="86.8">PSO</text>
<text id="A_l2b" transform="translate(722.33 249.7) scale(0.9534 1)" font-size="86.8">(Papp</text>
<text id="A_l2c" transform="translate(964.1 249.7) scale(0.9968 1)" font-size="86.8">x</text>
<text id="A_l2d" transform="translate(1028.69 249.7) scale(0.9260 1)" font-size="86.8" clip-path="url(#clip_A_l2d)">10</text>
<text id="A_l2e" transform="translate(1119.03 210.3) scale(0.9631 1)" font-size="64.8">-6</text>
<text id="A_l2f" transform="translate(1196.94 249.7) scale(0.9848 1)" font-size="86.8">cm/s)</text>
<text id="B_l1a" transform="translate(524.44 1792.8) scale(0.9366 1)" font-size="86.8">PSO-EBGT</text>
<text id="B_l1b" transform="translate(965.03 1792.8) scale(0.9333 1)" font-size="86.8">(mM)</text>
<text id="B_l2a" transform="translate(524.44 1923.8) scale(0.9366 1)" font-size="86.8">PSO-EBGT</text>
<text id="B_l2b" transform="translate(966.32 1923.8) scale(0.9359 1)" font-size="86.8">(Papp</text>
<text id="B_l2c" transform="translate(1205.13 1923.8) scale(0.9724 1)" font-size="86.8">x</text>
<text id="B_l2d" transform="translate(1268.67 1923.8) scale(0.9166 1)" font-size="86.8" clip-path="url(#clip_B_l2d)">10</text>
<text id="B_l2e" transform="translate(1358.18 1884.1) scale(0.9518 1)" font-size="64.4">-6</text>
<text id="B_l2f" transform="translate(1436.36 1923.8) scale(0.9789 1)" font-size="86.8">cm/s)</text>
<text id="A_let" transform="translate(1702.31 229.7) scale(0.9512 1)" font-size="101.4">A</text>
<text id="B_let" transform="translate(1694.21 1903.75) scale(0.9733 1)" font-size="99.9">B</text>
<text id="A_xt1" transform="translate(773.25 1555.9) scale(0.9860 1)" font-size="87.1" font-weight="bold">HP-</text>
<text id="A_xt2" transform="translate(918.54 1555.9) scale(1.0772 1)" font-size="85.3" font-family="'Liberation Serif', 'Times New Roman', serif" stroke="#000" stroke-width="1.6">β</text>
<text id="A_xt3" transform="translate(974.95 1555.9) scale(0.9510 1)" font-size="87.1" font-weight="bold">-CD</text>
<text id="A_xt4" transform="translate(1145.24 1555.9) scale(0.9645 1)" font-size="87.1" font-weight="bold">(mM)</text>
<text id="B_xt1" transform="translate(769.29 3220.8) scale(0.9830 1)" font-size="86.9" font-weight="bold">HP-</text>
<text id="B_xt2" transform="translate(914.29 3220.8) scale(1.0677 1)" font-size="83.7" font-family="'Liberation Serif', 'Times New Roman', serif" stroke="#000" stroke-width="1.6">β</text>
<text id="B_xt3" transform="translate(970.06 3220.8) scale(0.9480 1)" font-size="86.9" font-weight="bold">-CD</text>
<text id="B_xt4" transform="translate(1139.65 3220.8) scale(0.9614 1)" font-size="86.9" font-weight="bold">(mM)</text>
<text id="A_yt1" transform="translate(139.9 1163.37) rotate(-90) scale(0.9551 1)" font-size="87.2" font-weight="bold">Papp</text>
<text id="A_yt2" transform="translate(139.9 937.71) rotate(-90) scale(0.9534 1)" font-size="87.2" font-weight="bold">(x</text>
<text id="A_yt3" transform="translate(139.9 864.67) rotate(-90) scale(0.9516 1)" font-size="87.2" font-weight="bold" clip-path="url(#clip_A_yt3)">10</text>
<text id="A_yt4" transform="translate(103.3 768.26) rotate(-90) scale(0.9291 1)" font-size="64.8" font-weight="bold">-6</text>
<text id="A_yt5" transform="translate(139.9 689.57) rotate(-90) scale(0.9564 1)" font-size="87.2" font-weight="bold">cm/s)</text>
<text id="B_yt1" transform="translate(139.3 2831.41) rotate(-90) scale(0.9448 1)" font-size="87.2" font-weight="bold">Papp</text>
<text id="B_yt2" transform="translate(139.3 2607.44) rotate(-90) scale(0.9341 1)" font-size="87.2" font-weight="bold">(x</text>
<text id="B_yt3" transform="translate(139.3 2534.26) rotate(-90) scale(0.9345 1)" font-size="87.2" font-weight="bold" clip-path="url(#clip_B_yt3)">10</text>
<text id="B_yt4" transform="translate(102.7 2438.09) rotate(-90) scale(0.8944 1)" font-size="65" font-weight="bold">-6</text>
<text id="B_yt5" transform="translate(139.3 2360.86) rotate(-90) scale(0.9537 1)" font-size="87.2" font-weight="bold">cm/s)</text>
<text id="A_rt1" transform="translate(1982 628.23) rotate(90) scale(0.9562 1)" font-size="87.2" font-weight="bold">PSO</text>
<text id="A_rt2" transform="translate(1982 829.74) rotate(90) scale(0.9395 1)" font-size="87.2" font-weight="bold">(mM)</text>
<text id="B_rt1" transform="translate(1972.4 2291.4) rotate(90) scale(0.9461 1)" font-size="86.9" font-weight="bold">PSO</text>
<text id="B_rt2" transform="translate(1972.4 2489.02) rotate(90) scale(0.9448 1)" font-size="86.9" font-weight="bold">(mM)</text>
<text id="A_yl0" transform="translate(227.45 1350.71) scale(0.9374 1)" font-size="78.07" font-weight="bold">0</text>
<text id="A_yl1" transform="translate(227.45 1182.05) scale(0.9374 1)" font-size="78.07" font-weight="bold">5</text>
<text id="A_yl2" transform="translate(186.74 1013.38) scale(0.9374 1)" font-size="78.07" font-weight="bold" clip-path="url(#clip_A_yl2)">10</text>
<text id="A_yl3" transform="translate(186.74 844.72) scale(0.9374 1)" font-size="78.07" font-weight="bold" clip-path="url(#clip_A_yl3)">15</text>
<text id="A_yl4" transform="translate(186.74 676.05) scale(0.9374 1)" font-size="78.07" font-weight="bold">20</text>
<text id="A_yl5" transform="translate(186.74 507.39) scale(0.9374 1)" font-size="78.07" font-weight="bold">25</text>
<text id="A_yl6" transform="translate(186.74 338.72) scale(0.9374 1)" font-size="78.07" font-weight="bold">30</text>
<text id="A_yr0" transform="translate(1861.66 1350.73) scale(0.9576 1)" font-size="77.53" font-weight="bold">0</text>
<text id="A_yr1" transform="translate(1861.66 1013.4) scale(0.9576 1)" font-size="77.53" font-weight="bold" clip-path="url(#clip_A_yr1)">1</text>
<text id="A_yr2" transform="translate(1861.66 676.07) scale(0.9576 1)" font-size="77.53" font-weight="bold">2</text>
<text id="A_yr3" transform="translate(1861.66 338.74) scale(0.9576 1)" font-size="77.53" font-weight="bold">3</text>
<text id="A_xl0" transform="translate(383.48 1435.04) scale(0.9290 1)" font-size="78.05" font-weight="bold">0</text>
<text id="A_xl1" transform="translate(559.02 1435.04) scale(0.9290 1)" font-size="78.05" font-weight="bold" clip-path="url(#clip_A_xl1)">10</text>
<text id="A_xl2" transform="translate(754.73 1435.04) scale(0.9290 1)" font-size="78.05" font-weight="bold">20</text>
<text id="A_xl3" transform="translate(950.44 1435.04) scale(0.9290 1)" font-size="78.05" font-weight="bold">30</text>
<text id="A_xl4" transform="translate(1146.15 1435.04) scale(0.9290 1)" font-size="78.05" font-weight="bold">40</text>
<text id="A_xl5" transform="translate(1341.86 1435.04) scale(0.9290 1)" font-size="78.05" font-weight="bold">50</text>
<text id="A_xl6" transform="translate(1537.57 1435.04) scale(0.9290 1)" font-size="78.05" font-weight="bold">60</text>
<text id="A_xl7" transform="translate(1733.28 1435.04) scale(0.9290 1)" font-size="78.05" font-weight="bold">70</text>
<text id="B_yl0" transform="translate(225.94 3017.59) scale(0.9363 1)" font-size="77.73" font-weight="bold">0</text>
<text id="B_yl1" transform="translate(225.94 2849.92) scale(0.9363 1)" font-size="77.73" font-weight="bold">5</text>
<text id="B_yl2" transform="translate(185.47 2682.26) scale(0.9363 1)" font-size="77.73" font-weight="bold" clip-path="url(#clip_B_yl2)">10</text>
<text id="B_yl3" transform="translate(185.47 2514.59) scale(0.9363 1)" font-size="77.73" font-weight="bold" clip-path="url(#clip_B_yl3)">15</text>
<text id="B_yl4" transform="translate(185.47 2346.93) scale(0.9363 1)" font-size="77.73" font-weight="bold">20</text>
<text id="B_yl5" transform="translate(185.47 2179.26) scale(0.9363 1)" font-size="77.73" font-weight="bold">25</text>
<text id="B_yl6" transform="translate(185.47 2011.6) scale(0.9363 1)" font-size="77.73" font-weight="bold">30</text>
<text id="B_yr0" transform="translate(1852.6 3017.36) scale(0.9690 1)" font-size="77.31" font-weight="bold">0</text>
<text id="B_yr1" transform="translate(1852.6 2682.03) scale(0.9690 1)" font-size="77.31" font-weight="bold" clip-path="url(#clip_B_yr1)">1</text>
<text id="B_yr2" transform="translate(1852.6 2346.7) scale(0.9690 1)" font-size="77.31" font-weight="bold">2</text>
<text id="B_yr3" transform="translate(1852.6 2011.37) scale(0.9690 1)" font-size="77.31" font-weight="bold">3</text>
<text id="B_xl0" transform="translate(380.55 3101.76) scale(0.9281 1)" font-size="77.88" font-weight="bold">0</text>
<text id="B_xl1" transform="translate(555.34 3101.76) scale(0.9281 1)" font-size="77.88" font-weight="bold" clip-path="url(#clip_B_xl1)">10</text>
<text id="B_xl2" transform="translate(750.23 3101.76) scale(0.9281 1)" font-size="77.88" font-weight="bold">20</text>
<text id="B_xl3" transform="translate(945.12 3101.76) scale(0.9281 1)" font-size="77.88" font-weight="bold">30</text>
<text id="B_xl4" transform="translate(1140.01 3101.76) scale(0.9281 1)" font-size="77.88" font-weight="bold">40</text>
<text id="B_xl5" transform="translate(1334.9 3101.76) scale(0.9281 1)" font-size="77.88" font-weight="bold">50</text>
<text id="B_xl6" transform="translate(1529.79 3101.76) scale(0.9281 1)" font-size="77.88" font-weight="bold">60</text>
<text id="B_xl7" transform="translate(1724.68 3101.76) scale(0.9281 1)" font-size="77.88" font-weight="bold">70</text>
</svg>
</body></html>
